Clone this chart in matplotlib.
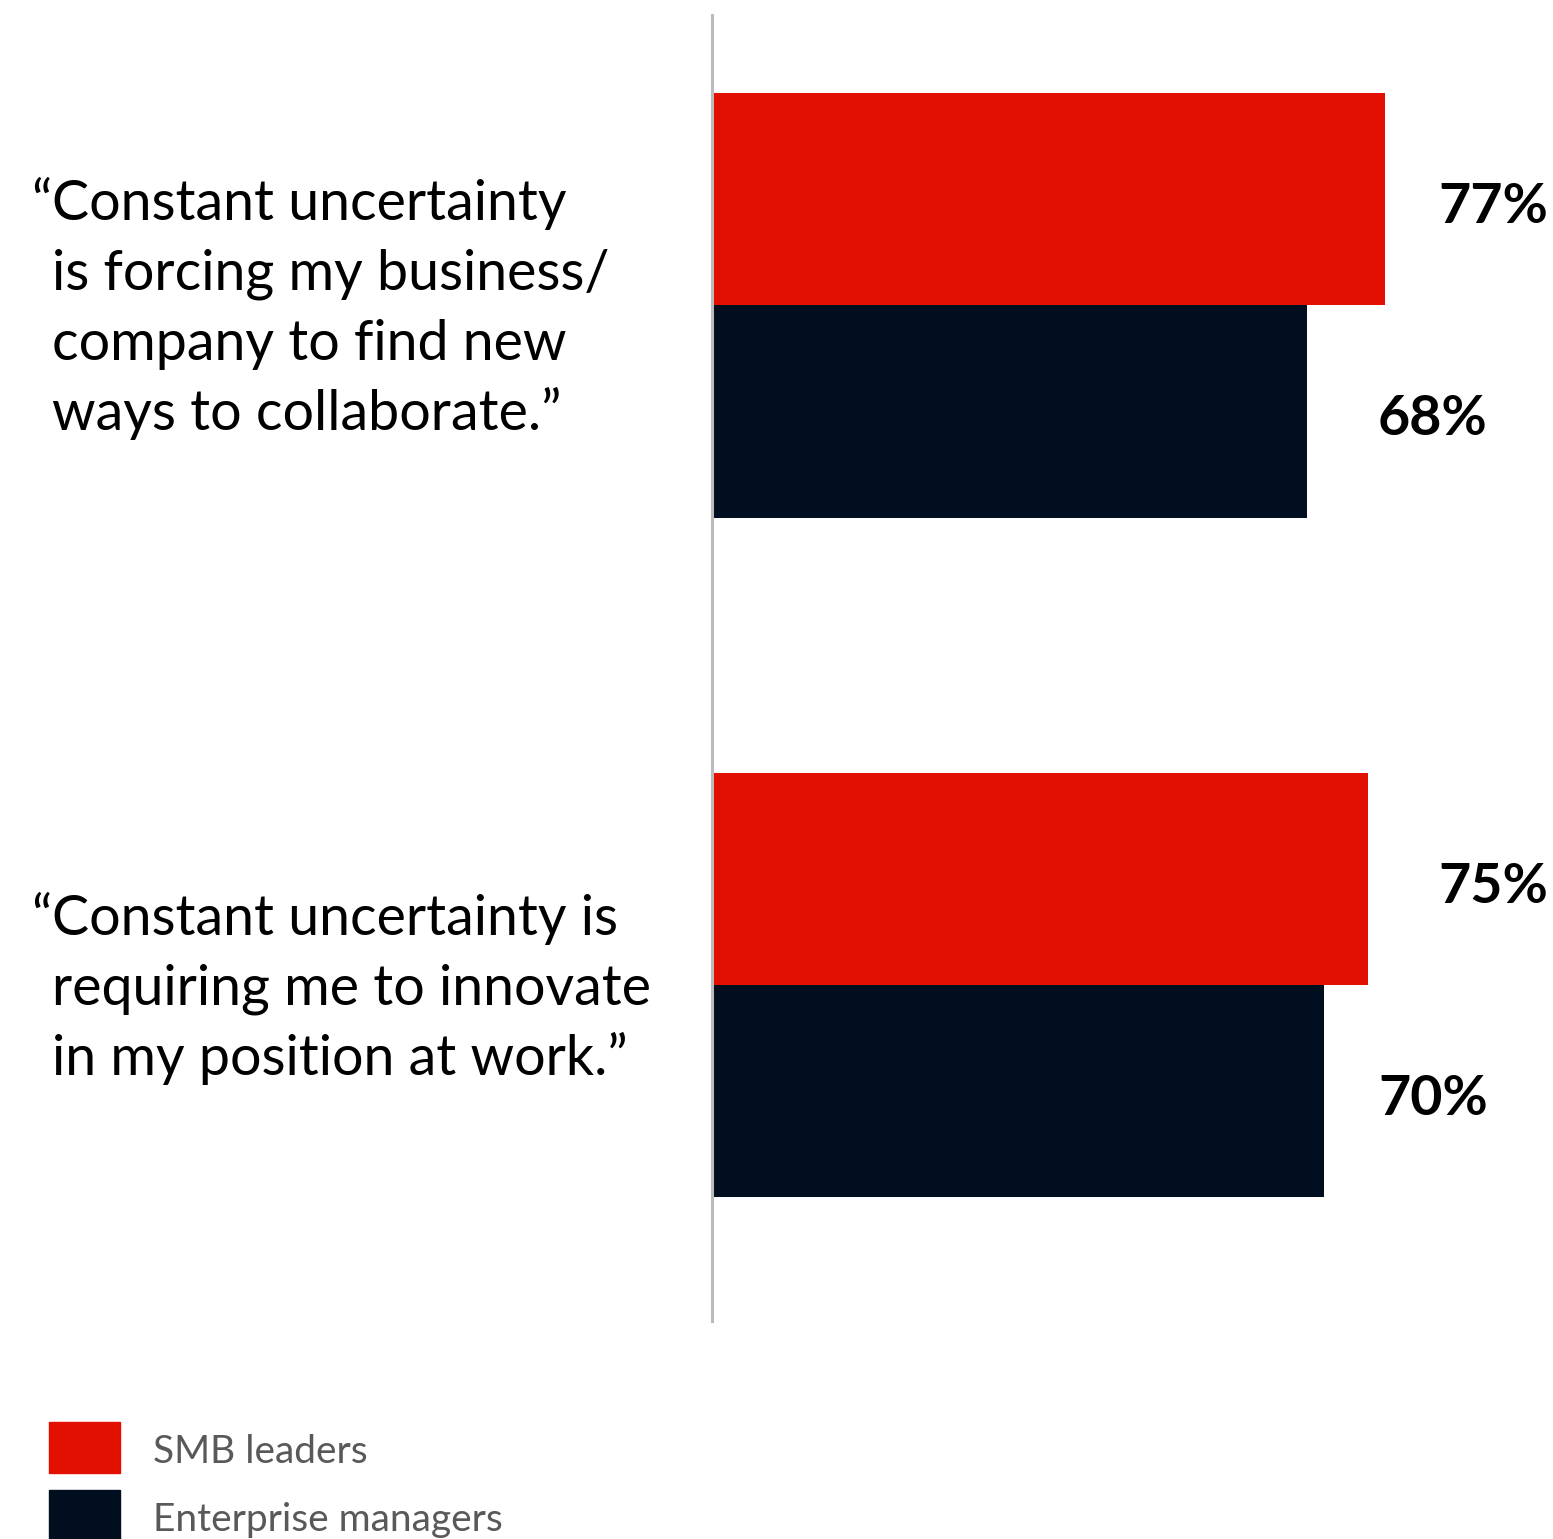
import matplotlib
matplotlib.use("Agg")
import matplotlib.pyplot as plt
from matplotlib.patches import Rectangle

# Survey statements (hanging opening quote on the first line)
statements = [
    "“Constant uncertainty\nis forcing my business/\ncompany to find new\nways to collaborate.”",
    "“Constant uncertainty is\nrequiring me to innovate\nin my position at work.”",
]
series_names = ["SMB leaders", "Enterprise managers"]
smb_leaders = [77, 75]
enterprise_managers = [68, 70]
series_colors = ["#E11000", "#000E20"]

plt.rcParams["font.family"] = ["Lato", "DejaVu Sans"]

W, H = 1553, 1539
fig = plt.figure(figsize=(W / 100, H / 100), dpi=100)


def fx(px):
    return px / W


def fy(py):
    return 1 - py / H


PX_PER_PCT = 8.75
GROUP_PX = 680.0
top_px, bottom_px, left_px = 15, 1321, 711.5
first_center_px = 305

ax = fig.add_axes([fx(left_px), fy(bottom_px), 1 - fx(left_px), (bottom_px - top_px) / H])
ax.set_xlim(0, (W - left_px) / PX_PER_PCT)
ax.set_ylim(1 + (bottom_px - (first_center_px + GROUP_PX)) / GROUP_PX,
            -(first_center_px - top_px) / GROUP_PX)

bar_h = 212.5 / GROUP_PX
values = [smb_leaders, enterprise_managers]
label_cols = [(1438 - left_px) / PX_PER_PCT, (1378 - left_px) / PX_PER_PCT]
for k, (vals, col) in enumerate(zip(values, series_colors)):
    ys = [i + (k - 0.5) * bar_h for i in range(len(vals))]
    ax.barh(ys, vals, height=bar_h, color=col, zorder=2, linewidth=0)
    for y, v in zip(ys, vals):
        ax.text(label_cols[k], y + 8 / GROUP_PX, f"{v}%", ha="left", va="center",
                fontsize=40, fontweight="bold", color="#000000")

for s in ["top", "right", "bottom"]:
    ax.spines[s].set_visible(False)
ax.spines["left"].set_color("#BBBBBB")
ax.spines["left"].set_linewidth(2.2)
ax.spines["left"].set_zorder(3)
ax.set_xticks([])
ax.set_yticks([])

# Category statements to the left of the axis
LINE_PX = 70
text_x = fx(52)
for i, s in enumerate(statements):
    lines = s.split("\n")
    n = len(lines)
    for j, line in enumerate(lines):
        y_data = i + ((j - (n - 1) / 2) * LINE_PX + 20) / GROUP_PX
        y_fig = ax.transData.transform((0, y_data))[1] / H
        if line.startswith("“"):
            fig.text(text_x, y_fig, "“", ha="right", va="baseline", fontsize=40,
                     color="#000000")
            line = line[1:]
        fig.text(text_x, y_fig, line, ha="left", va="baseline", fontsize=40,
                 color="#000000")

# Legend
legend_rows = [1422, 1490]
for name, col, top in zip(series_names, series_colors, legend_rows):
    fig.patches.append(Rectangle((fx(49), fy(top + 51)), fx(71), 51 / H,
                                 transform=fig.transFigure, color=col, zorder=1))
    fig.text(fx(153), fy(top + 41), name, ha="left", va="baseline",
             fontsize=28, color="#595959")

fig.savefig("out.png", dpi=100)
